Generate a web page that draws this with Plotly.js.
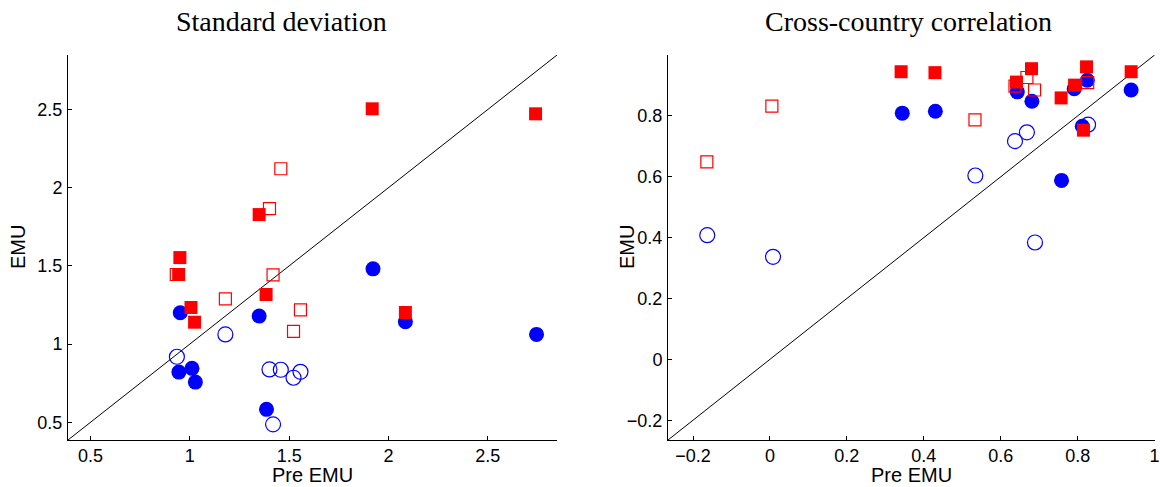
<!DOCTYPE html>
<html>
<head>
<meta charset="utf-8">
<script src="https://cdn.plot.ly/plotly-3.0.1.min.js"></script>
<style>html,body{margin:0;padding:0;background:#fff;}#chart{width:1160px;height:487px;}</style>
</head>
<body>
<div id="chart"></div>
<script>
// ---- Standard deviation panel ----
const sdRedFilledX  = [1.918, 2.740, 1.349, 0.950, 0.944, 1.384, 1.006, 1.024, 2.085];
const sdRedFilledY  = [2.504, 2.472, 1.828, 1.553, 1.445, 1.317, 1.234, 1.140, 1.202];
const sdBlueFilledX = [1.922, 2.745, 1.349, 0.952, 0.945, 1.386, 1.011, 1.028, 2.085];
const sdBlueFilledY = [1.481, 1.062, 1.179, 1.200, 0.821, 0.583, 0.845, 0.757, 1.143];
const sdRedOpenX    = [1.458, 1.401, 1.419, 0.932, 1.179, 1.557, 1.522];
const sdRedOpenY    = [2.121, 1.866, 1.443, 1.445, 1.289, 1.219, 1.081];
const sdBlueOpenX   = [1.179, 0.935, 1.401, 1.458, 1.522, 1.557, 1.419];
const sdBlueOpenY   = [1.062, 0.919, 0.838, 0.836, 0.785, 0.823, 0.487];
const sdRange = [0.387, 2.848];
const sdTicks = [0.5, 1, 1.5, 2, 2.5];
const sdTickText = ['0.5', '1', '1.5', '2', '2.5'];

// ---- Cross-country correlation panel ----
const ccRedFilledX  = [0.341, 0.429, 0.680, 0.823, 0.939, 0.641, 0.792, 0.757, 0.815];
const ccRedFilledY  = [0.945, 0.942, 0.955, 0.961, 0.945, 0.911, 0.901, 0.859, 0.753];
const ccBlueFilledX = [0.344, 0.430, 0.643, 0.681, 0.791, 0.825, 0.939, 0.812, 0.758];
const ccBlueFilledY = [0.809, 0.815, 0.879, 0.848, 0.889, 0.917, 0.885, 0.766, 0.588];
const ccRedOpenX    = [-0.164, 0.005, 0.533, 0.637, 0.668, 0.688, 0.826];
const ccRedOpenY    = [0.649, 0.832, 0.787, 0.898, 0.926, 0.885, 0.909];
const ccBlueOpenX   = [-0.163, 0.008, 0.534, 0.637, 0.668, 0.689, 0.827];
const ccBlueOpenY   = [0.408, 0.337, 0.604, 0.717, 0.746, 0.384, 0.771];
const ccRange = [-0.265, 1.001];
const ccTicksX = [-0.2, 0, 0.2, 0.4, 0.6, 0.8, 1];
const ccTickTextX = ['\u22120.2', '0', '0.2', '0.4', '0.6', '0.8', '1'];
const ccTicksY = [-0.2, 0, 0.2, 0.4, 0.6, 0.8];
const ccTickTextY = ['\u22120.2', '0', '0.2', '0.4', '0.6', '0.8'];

const titles = ['Standard deviation', 'Cross-country correlation'];
const xTitle = 'Pre EMU';
const yTitle = 'EMU';

const BLUE = '#0000ff', RED = '#ff0000';
function panel(xa, ya, rng, rbX, rbY, bfX, bfY, roX, roY, boX, boY) {
  return [
    {x: rng, y: rng, xaxis: xa, yaxis: ya, mode: 'lines', line: {color: '#000', width: 1}, hoverinfo: 'skip'},
    {x: bfX, y: bfY, xaxis: xa, yaxis: ya, mode: 'markers', marker: {symbol: 'circle', size: 15, color: BLUE, line: {width: 0}}},
    {x: boX, y: boY, xaxis: xa, yaxis: ya, mode: 'markers', marker: {symbol: 'circle-open', size: 15, color: BLUE, line: {width: 1.2, color: BLUE}}},
    {x: roX, y: roY, xaxis: xa, yaxis: ya, mode: 'markers', marker: {symbol: 'square-open', size: 12, color: RED, line: {width: 1.2, color: RED}}},
    {x: rbX, y: rbY, xaxis: xa, yaxis: ya, mode: 'markers', marker: {symbol: 'square', size: 13, color: RED, line: {width: 0}}}
  ];
}
const data = [].concat(
  panel('x', 'y', sdRange, sdRedFilledX, sdRedFilledY, sdBlueFilledX, sdBlueFilledY, sdRedOpenX, sdRedOpenY, sdBlueOpenX, sdBlueOpenY),
  panel('x2', 'y2', [ccRange[0], 1.0], ccRedFilledX, ccRedFilledY, ccBlueFilledX, ccBlueFilledY, ccRedOpenX, ccRedOpenY, ccBlueOpenX, ccBlueOpenY)
);

const tickFont = {family: 'Liberation Sans, Arial, sans-serif', size: 18, color: '#000'};
function axis(extra) {
  return Object.assign({
    showgrid: false, zeroline: false, showline: true, linecolor: '#000', linewidth: 1,
    ticks: 'inside', ticklen: 4, tickwidth: 1, tickcolor: '#000', mirror: false,
    tickfont: tickFont, tickmode: 'array', fixedrange: true
  }, extra);
}
const W = 1160, H = 487;
const yDom = [(H - 440) / H, (H - 55) / H];
const layout = {
  width: W, height: H, margin: {l: 0, r: 0, t: 0, b: 0},
  paper_bgcolor: '#fff', plot_bgcolor: 'rgba(0,0,0,0)', showlegend: false,
  xaxis: axis({domain: [68 / W, 557 / W], range: sdRange, tickvals: sdTicks, ticktext: sdTickText, anchor: 'y', ticklabelstandoff: -1}),
  yaxis: axis({domain: yDom, range: sdRange, tickvals: sdTicks, ticktext: sdTickText, anchor: 'x', ticklabelstandoff: 1}),
  xaxis2: axis({domain: [668 / W, 1155 / W], range: ccRange, tickvals: ccTicksX, ticktext: ccTickTextX, anchor: 'y2', ticklabelstandoff: -1}),
  yaxis2: axis({domain: yDom, range: [ccRange[0], 1.0], tickvals: ccTicksY, ticktext: ccTickTextY, anchor: 'x2', ticklabelstandoff: 1}),
  annotations: [
    {text: titles[0], xref: 'paper', yref: 'paper', x: 281 / W, y: 1 - 21 / H, xanchor: 'center', yanchor: 'middle', showarrow: false,
     font: {family: 'Liberation Serif, Times New Roman, serif', size: 28, color: '#000'}},
    {text: titles[1], xref: 'paper', yref: 'paper', x: 908 / W, y: 1 - 21 / H, xanchor: 'center', yanchor: 'middle', showarrow: false,
     font: {family: 'Liberation Serif, Times New Roman, serif', size: 28, color: '#000'}},
    {text: xTitle, xref: 'paper', yref: 'paper', x: 312 / W, y: 1 - 475 / H, xanchor: 'center', yanchor: 'middle', showarrow: false,
     font: {family: 'Liberation Sans, Arial, sans-serif', size: 20, color: '#000'}},
    {text: xTitle, xref: 'paper', yref: 'paper', x: 911 / W, y: 1 - 475 / H, xanchor: 'center', yanchor: 'middle', showarrow: false,
     font: {family: 'Liberation Sans, Arial, sans-serif', size: 20, color: '#000'}},
    {text: yTitle, xref: 'paper', yref: 'paper', x: 18 / W, y: 1 - 247 / H, xanchor: 'center', yanchor: 'middle', textangle: -90, showarrow: false,
     font: {family: 'Liberation Sans, Arial, sans-serif', size: 20, color: '#000'}},
    {text: yTitle, xref: 'paper', yref: 'paper', x: 627 / W, y: 1 - 247 / H, xanchor: 'center', yanchor: 'middle', textangle: -90, showarrow: false,
     font: {family: 'Liberation Sans, Arial, sans-serif', size: 20, color: '#000'}}
  ]
};
Plotly.newPlot('chart', data, layout, {displayModeBar: false, staticPlot: true});
</script>
</body>
</html>
